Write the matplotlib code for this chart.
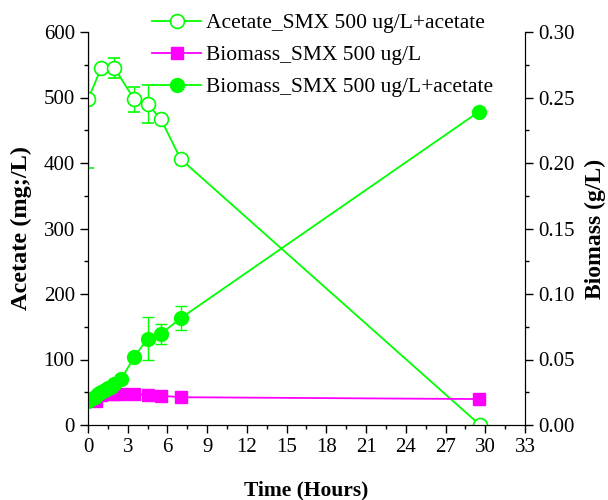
import matplotlib.pyplot as plt
from matplotlib.lines import Line2D
import numpy as np

plt.rcParams['font.family'] = ['Liberation Serif', 'DejaVu Serif']

# acetate (left axis)
t_ac = [0, 1, 2, 3.5, 4.5, 5.5, 7, 29.6]
ac = [497, 545, 545, 497, 490, 467, 406, 0]
ac_err = [105, 0, 15, 19, 29, 0, 0, 0]

# biomass SMX 500 ug/L (right axis)
t_bm = [0.6, 1, 1.5, 2, 2.5, 3.5, 4.5, 5.5, 7, 29.5]
bm = [0.018, 0.023, 0.024, 0.024, 0.0238, 0.0236, 0.023, 0.0224, 0.0212, 0.0198]

# biomass SMX 500 ug/L + acetate (right axis)
t_bma = [0, 0.25, 0.5, 0.75, 1, 1.25, 1.5, 1.75, 2, 2.5, 3.5, 4.5, 5.5, 7, 29.5]
bma = [0.018, 0.020, 0.0215, 0.024, 0.025, 0.027, 0.028, 0.029, 0.031, 0.035,
       0.052, 0.066, 0.0695, 0.0815, 0.239]
bma_err = [0, 0, 0, 0, 0, 0, 0, 0, 0, 0, 0, 0.0166, 0.0075, 0.009, 0]

labels = ['Acetate_SMX 500 ug/L+acetate', 'Biomass_SMX 500 ug/L',
          'Biomass_SMX 500 ug/L+acetate']

green = '#00ff00'
mag = '#ff00ff'

fig = plt.figure(figsize=(6.08, 5.0), dpi=100)
ax = fig.add_axes([0.1447, 0.15, 0.7188, 0.786])
ax2 = ax.twinx()

ax.errorbar(t_ac, ac, yerr=ac_err, color=green, marker='o', ms=10, mfc='white',
            mec=green, mew=1.2, lw=1.3, capsize=4, elinewidth=1)
ax2.plot(t_bm, bm, color=mag, marker='s', ms=9, lw=1.3, mec=mag)
ax2.errorbar(t_bma, bma, yerr=bma_err, color=green, marker='o', ms=10, mec=green,
             lw=1.3, capsize=4, elinewidth=1)

ax.set_xlim(0, 33)
ax.set_ylim(0, 600)
ax2.set_ylim(0, 0.30)
ax.set_xticks(np.arange(0, 34, 3))
ax.set_xticks(np.arange(0, 34, 1.5), minor=True)
ax.set_yticks(np.arange(0, 601, 100))
ax.set_yticks(np.arange(0, 601, 50), minor=True)
ax2.set_yticks(np.arange(0, 0.31, 0.05))
ax2.set_yticks(np.arange(0, 0.31, 0.025), minor=True)
ax2.yaxis.set_major_formatter(plt.FormatStrFormatter('%.2f'))

for a in (ax, ax2):
    a.spines['top'].set_visible(False)
    a.tick_params(which='major', direction='out', length=6, width=1, labelsize=15)
    a.tick_params(which='minor', direction='out', length=3, width=1)

ax.set_xlabel('Time (Hours)', fontsize=15.5, fontweight='bold', labelpad=17)
ax.set_ylabel('Acetate (mg;/L)', fontsize=17.5, fontweight='bold', labelpad=8)
ax2.set_ylabel('Biomass (g/L)', fontsize=17, fontweight='bold', labelpad=7)

# legend handles without error bar caps
h1 = Line2D([], [], color=green, marker='o', ms=10, mfc='white', mec=green, mew=1.2, lw=1.3)
h2 = Line2D([], [], color=mag, marker='s', ms=9, mec=mag, lw=1.3)
h3 = Line2D([], [], color=green, marker='o', ms=10, mec=green, lw=1.3)
fig.legend([h1, h2, h3], labels,
           loc='upper left', bbox_to_anchor=(141 / 608, 0.995), frameon=False,
           borderpad=0, fontsize=15.5, handlelength=2.3, labelspacing=0.55,
           handletextpad=0.2)

fig.savefig('out.png', dpi=100)
